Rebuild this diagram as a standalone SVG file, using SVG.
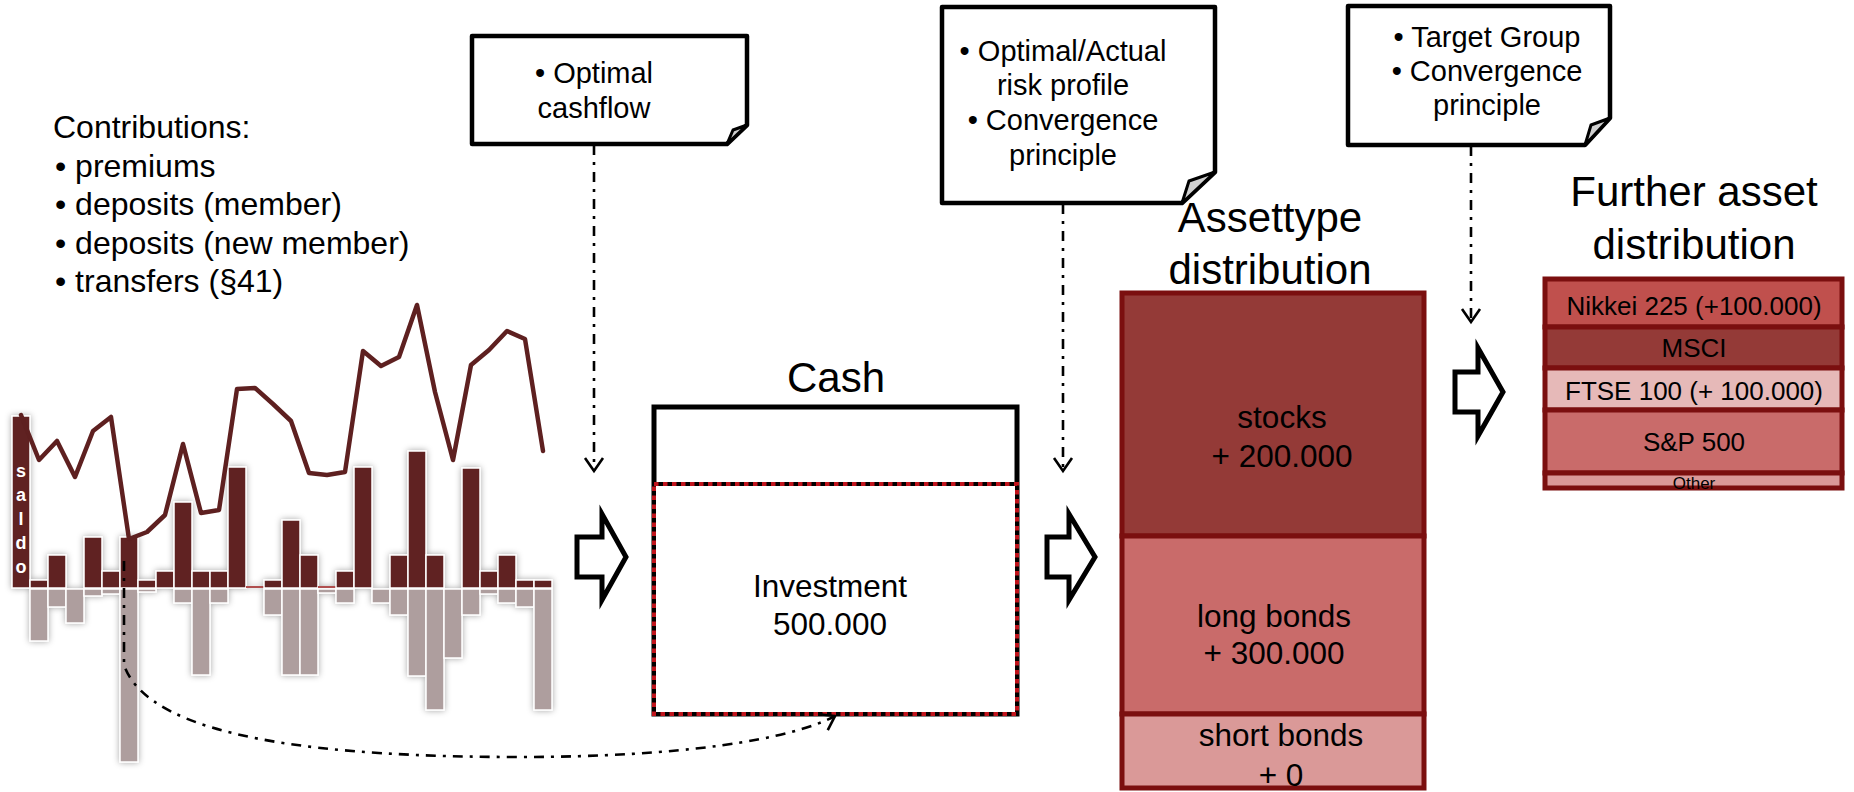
<svg xmlns="http://www.w3.org/2000/svg" width="1854" height="792" viewBox="0 0 1854 792">
<style>
text{font-family:"Liberation Sans",Arial,sans-serif;fill:#000}
.t32{font-size:32px}
.t29{font-size:29px;text-anchor:middle}
.tb{font-size:31.5px;text-anchor:middle}
.title{font-size:42px;text-anchor:middle}
.fa{font-size:26px;text-anchor:middle}
.saldo{fill:#fff;font-size:18px;font-weight:bold;text-anchor:middle}
.note{fill:#fff;stroke:#000;stroke-width:4.5;stroke-linejoin:round}
.flap{fill:#d0d0d0;stroke:#000;stroke-width:3;stroke-linejoin:round}
.pos{fill:#612323;stroke:#fff;stroke-width:1.5}
.neg{fill:#ae9e9e;stroke:#fff;stroke-width:1.5}
.dd{fill:none;stroke:#000;stroke-width:2.6;stroke-dasharray:10 7 3 7}
.blk{fill:#fff;stroke:#000;stroke-width:5;stroke-linejoin:miter}
.ab{stroke:#7b0f0f;stroke-width:5}
</style>
<defs>
<marker id="vhead" viewBox="-16 -12 20 24" refX="0" refY="0" markerWidth="20" markerHeight="24" markerUnits="userSpaceOnUse" orient="auto">
<path d="M-13,-9 L0,0 L-13,9" fill="none" stroke="#000" stroke-width="2.6"/>
</marker>
<filter id="shadow" x="-20%" y="-20%" width="140%" height="140%">
<feGaussianBlur in="SourceAlpha" stdDeviation="3"/>
<feOffset dx="0" dy="0" result="b"/>
<feFlood flood-color="#000" flood-opacity="0.35"/>
<feComposite in2="b" operator="in"/>
<feMerge><feMergeNode/><feMergeNode in="SourceGraphic"/></feMerge>
</filter>
</defs>
<rect width="1854" height="792" fill="#fff"/>

<g id="contributions">
<text class="t32" x="53" y="138">Contributions:</text>
<text class="t32" x="55" y="176.5">• premiums</text>
<text class="t32" x="55" y="215">• deposits (member)</text>
<text class="t32" x="55" y="253.5">• deposits (new member)</text>
<text class="t32" x="55" y="292">• transfers (§41)</text>
</g>

<g id="chart">
<g filter="url(#shadow)">
<rect class="pos" x="12" y="416" width="18" height="172"/>
<rect class="pos" x="30" y="580" width="18" height="8"/>
<rect class="pos" x="48" y="555" width="18" height="33"/>
<rect class="pos" x="84" y="537" width="18" height="51"/>
<rect class="pos" x="102" y="571" width="18" height="17"/>
<rect class="pos" x="120" y="537" width="18" height="51"/>
<rect class="pos" x="138" y="580" width="18" height="8"/>
<rect class="pos" x="156" y="571" width="18" height="17"/>
<rect class="pos" x="174" y="502" width="18" height="86"/>
<rect class="pos" x="192" y="571" width="18" height="17"/>
<rect class="pos" x="210" y="571" width="18" height="17"/>
<rect class="pos" x="228" y="467" width="18" height="121"/>
<rect x="246" y="586" width="18" height="2" fill="#b05050"/>
<rect class="pos" x="264" y="580" width="18" height="8"/>
<rect class="pos" x="282" y="520" width="18" height="68"/>
<rect class="pos" x="300" y="555" width="18" height="33"/>
<rect x="318" y="586" width="18" height="2" fill="#b05050"/>
<rect class="pos" x="336" y="571" width="18" height="17"/>
<rect class="pos" x="354" y="467" width="18" height="121"/>
<rect class="pos" x="390" y="555" width="18" height="33"/>
<rect class="pos" x="408" y="451" width="18" height="137"/>
<rect class="pos" x="426" y="555" width="18" height="33"/>
<rect class="pos" x="462" y="468" width="18" height="120"/>
<rect class="pos" x="480" y="571" width="18" height="17"/>
<rect class="pos" x="498" y="555" width="18" height="33"/>
<rect class="pos" x="516" y="580" width="18" height="8"/>
<rect class="pos" x="534" y="580" width="18" height="8"/>

<rect class="neg" x="30" y="589" width="18" height="52"/>
<rect class="neg" x="48" y="589" width="18" height="18"/>
<rect class="neg" x="66" y="589" width="18" height="34"/>
<rect class="neg" x="84" y="589" width="18" height="7"/>
<rect class="neg" x="102" y="589" width="18" height="5"/>
<rect class="neg" x="120" y="589" width="18" height="173"/>
<rect class="neg" x="138" y="589" width="18" height="3"/>
<rect class="neg" x="174" y="589" width="18" height="14"/>
<rect class="neg" x="192" y="589" width="18" height="86"/>
<rect class="neg" x="210" y="589" width="18" height="14"/>
<rect class="neg" x="264" y="589" width="18" height="26"/>
<rect class="neg" x="282" y="589" width="18" height="86"/>
<rect class="neg" x="300" y="589" width="18" height="86"/>
<rect class="neg" x="318" y="589" width="18" height="4"/>
<rect class="neg" x="336" y="589" width="18" height="14"/>
<rect class="neg" x="372" y="589" width="18" height="14"/>
<rect class="neg" x="390" y="589" width="18" height="26"/>
<rect class="neg" x="408" y="589" width="18" height="87"/>
<rect class="neg" x="426" y="589" width="18" height="121"/>
<rect class="neg" x="444" y="589" width="18" height="69"/>
<rect class="neg" x="462" y="589" width="18" height="26"/>
<rect class="neg" x="480" y="589" width="18" height="5"/>
<rect class="neg" x="498" y="589" width="18" height="14"/>
<rect class="neg" x="516" y="589" width="18" height="18"/>
<rect class="neg" x="534" y="589" width="18" height="121"/>
</g>
<text class="saldo" x="21" y="477">s</text>
<text class="saldo" x="21" y="501">a</text>
<text class="saldo" x="21" y="525">l</text>
<text class="saldo" x="21" y="549">d</text>
<text class="saldo" x="21" y="573">o</text>
<polyline fill="none" stroke="#5e2020" stroke-width="4.5" stroke-linejoin="round" stroke-linecap="round" points="21,415 39,460 57,441 75,477 93,431 111,417 129,539 147,532 165,515 183,444 201,513 219,510 237,389 255,388 273,404 291,421 309,473 327,475 345,472 363,351 381,366 399,357 417,305 435,392 453,460 471,365 489,350 507,331 525,339 543,451"/>
</g>

<g id="note-cashflow">
<path class="note" d="M472,36 H747 V125 L727,144 H472 Z"/>
<path class="flap" d="M727,144 L733,130 L747,125 Z"/>
<text class="t29" x="594" y="83">• Optimal</text>
<text class="t29" x="594" y="118">cashflow</text>
</g>

<g id="note-risk">
<path class="note" d="M942,7 H1215 V172 L1182,203 H942 Z"/>
<path class="flap" d="M1182,203 L1189,181 L1215,172 Z"/>
<text class="t29" x="1063" y="61">• Optimal/Actual</text>
<text class="t29" x="1063" y="95">risk profile</text>
<text class="t29" x="1063" y="130">• Convergence</text>
<text class="t29" x="1063" y="165">principle</text>
</g>

<g id="note-target">
<path class="note" d="M1348,6 H1610 V118 L1585,145 H1348 Z"/>
<path class="flap" d="M1585,145 L1591,125 L1610,118 Z"/>
<text class="t29" x="1487" y="47">• Target Group</text>
<text class="t29" x="1487" y="81">• Convergence</text>
<text class="t29" x="1487" y="115">principle</text>
</g>

<g id="cash">
<text class="title" x="836" y="392">Cash</text>
<rect x="654" y="407" width="363" height="307" fill="#fff" stroke="#000" stroke-width="5"/>
<rect x="654" y="484" width="363" height="230" fill="#fff" stroke="#000" stroke-width="4"/>
<rect x="654" y="484" width="363" height="230" fill="none" stroke="#c0141c" stroke-width="4" stroke-dasharray="4.5 4.5"/>
<text class="tb" x="830" y="597">Investment</text>
<text class="tb" x="830" y="635">500.000</text>
</g>

<g id="assettype">
<text class="title" x="1270" y="232">Assettype</text>
<text class="title" x="1270" y="284">distribution</text>
<rect class="ab" x="1122" y="293" width="302" height="243" fill="#943a37"/>
<rect class="ab" x="1122" y="536" width="302" height="178" fill="#c96b6a"/>
<rect class="ab" x="1122" y="714" width="302" height="74" fill="#da9998"/>
<text class="tb" x="1282" y="428">stocks</text>
<text class="tb" x="1282" y="467">+ 200.000</text>
<text class="tb" x="1274" y="627">long bonds</text>
<text class="tb" x="1274" y="664">+ 300.000</text>
<text class="tb" x="1281" y="746">short bonds</text>
<text class="tb" x="1281" y="786">+ 0</text>
</g>

<g id="further">
<text class="title" x="1694" y="206">Further asset</text>
<text class="title" x="1694" y="259">distribution</text>
<rect class="ab" x="1545" y="279" width="297" height="48" fill="#c0504d"/>
<rect class="ab" x="1545" y="327" width="297" height="41" fill="#943a37"/>
<rect class="ab" x="1545" y="368" width="297" height="42" fill="#e6b9b8"/>
<rect class="ab" x="1545" y="410" width="297" height="63" fill="#c96b6a"/>
<rect class="ab" x="1545" y="473" width="297" height="15" fill="#da9998"/>
<text class="fa" x="1694" y="315">Nikkei 225 (+100.000)</text>
<text class="fa" x="1694" y="357">MSCI</text>
<text class="fa" x="1694" y="400">FTSE 100 (+ 100.000)</text>
<text class="fa" x="1694" y="451">S&amp;P 500</text>
<text x="1694" y="489" style="font-size:17px;text-anchor:middle">Other</text>
</g>

<g id="flow-arrows">
<path class="blk" d="M577,537 H602 V514 L626,557 L602,600 V577 H577 Z"/>
<path class="blk" d="M1047,537 H1069 V514 L1095,557 L1069,600 V577 H1047 Z"/>
<path class="blk" d="M1455,372 H1478 V348 L1503,392 L1478,436 V412 H1455 Z"/>
</g>

<g id="connectors">
<path class="dd" d="M594,145 V471" marker-end="url(#vhead)"/>
<path class="dd" d="M1063,204 V471" marker-end="url(#vhead)"/>
<path class="dd" d="M1471,146 V322" marker-end="url(#vhead)"/>
<path class="dd" d="M124,561 L124,665 C150,740 330,757 520,757 C680,757 790,740 835,716" marker-end="url(#vhead)"/>
</g>
</svg>
